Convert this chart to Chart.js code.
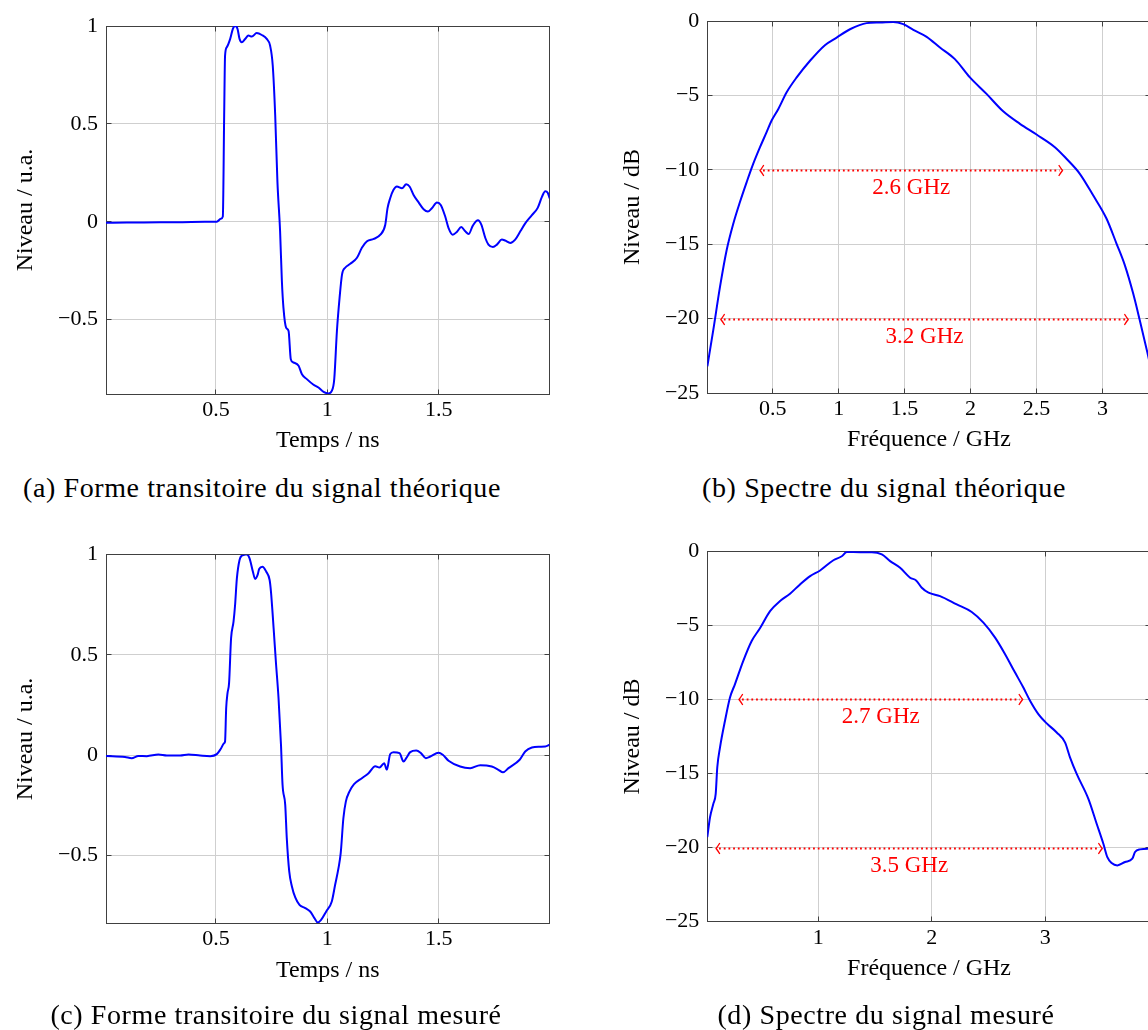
<!DOCTYPE html>
<html><head><meta charset="utf-8">
<script src="https://cdn.jsdelivr.net/npm/chart.js@4/dist/chart.umd.min.js"></script>
<style>
html,body{margin:0;padding:0;background:#fff;width:1148px;height:1030px;overflow:hidden;position:relative;}
canvas{position:absolute;}
.cap{position:absolute;font-family:"Liberation Serif","Times New Roman",serif;font-size:28px;letter-spacing:0.6px;line-height:34px;color:#000;white-space:nowrap;transform:translateX(-50%);}
</style></head><body>
<canvas id="ca" width="580" height="470" style="left:0px;top:0px"></canvas>
<canvas id="cb" width="620" height="470" style="left:600px;top:0px"></canvas>
<canvas id="cc" width="580" height="470" style="left:0px;top:530px"></canvas>
<canvas id="cd" width="620" height="470" style="left:600px;top:530px"></canvas>
<div class="cap" style="left:262px;top:471px">(a) Forme transitoire du signal théorique</div>
<div class="cap" style="left:884px;top:471px">(b) Spectre du signal théorique</div>
<div class="cap" style="left:276px;top:998px">(c) Forme transitoire du signal mesuré</div>
<div class="cap" style="left:886px;top:998px">(d) Spectre du signal mesuré</div>
<script>
// ---- data (a): transient, theoretical
const timeA = [0.007,0.1,0.25,0.35,0.45,0.504,0.522,0.531,0.537,0.541,0.549,0.564,0.576,0.586,0.597,0.606,0.616,0.631,0.646,0.661,0.683,0.706,0.728,0.743,0.755,0.766,0.776,0.788,0.796,0.803,0.815,0.826,0.836,0.848,0.871,0.886,0.908,0.938,0.960,0.983,1.005,1.020,1.031,1.043,1.055,1.066,1.080,1.103,1.133,1.155,1.178,1.208,1.238,1.260,1.270,1.282,1.297,1.312,1.335,1.354,1.369,1.387,1.409,1.432,1.451,1.469,1.492,1.509,1.529,1.544,1.563,1.581,1.601,1.619,1.634,1.653,1.676,1.691,1.709,1.723,1.743,1.761,1.783,1.798,1.821,1.843,1.866,1.888,1.918,1.944,1.963,1.978,1.989,1.998];
const levelA = [-0.005,-0.004,-0.003,-0.002,0.0,0.0,0.015,0.027,0.544,0.849,0.892,0.934,0.985,1.0,0.985,0.934,0.917,0.934,0.951,0.946,0.964,0.954,0.934,0.900,0.798,0.544,0.205,-0.049,-0.303,-0.439,-0.541,-0.558,-0.702,-0.719,-0.736,-0.779,-0.804,-0.833,-0.847,-0.869,-0.877,-0.864,-0.804,-0.558,-0.388,-0.269,-0.235,-0.215,-0.184,-0.133,-0.100,-0.088,-0.066,-0.015,0.068,0.120,0.163,0.180,0.171,0.191,0.180,0.137,0.100,0.064,0.052,0.069,0.098,0.086,0.027,-0.032,-0.066,-0.052,-0.027,-0.049,-0.063,-0.020,0.007,-0.015,-0.083,-0.117,-0.129,-0.117,-0.091,-0.096,-0.108,-0.091,-0.049,-0.008,0.034,0.071,0.127,0.156,0.148,0.119];
// ---- data (b): spectrum, theoretical
const freqB = [0.005,0.050,0.101,0.151,0.202,0.252,0.303,0.353,0.404,0.454,0.492,0.543,0.606,0.682,0.783,0.896,0.985,1.086,1.212,1.313,1.414,1.490,1.566,1.667,1.768,1.881,1.995,2.121,2.247,2.374,2.500,2.639,2.727,2.828,2.929,3.030,3.106,3.169,3.232,3.282,3.338,3.366];
const levelB = [-23.2,-20.76,-17.85,-15.4,-13.6,-12.16,-10.82,-9.58,-8.47,-7.46,-6.68,-5.90,-4.78,-3.78,-2.66,-1.61,-1.10,-0.54,-0.13,-0.09,-0.05,-0.2,-0.58,-1.05,-1.77,-2.55,-3.78,-4.89,-6.06,-6.9,-7.62,-8.47,-9.25,-10.26,-11.71,-13.27,-14.95,-16.4,-18.3,-20.09,-22.2,-23.3];
// ---- data (c): transient, measured
const timeC = [0.007,0.092,0.122,0.152,0.190,0.242,0.280,0.339,0.377,0.429,0.474,0.504,0.522,0.537,0.541,0.546,0.552,0.559,0.568,0.579,0.586,0.594,0.606,0.616,0.639,0.651,0.666,0.676,0.687,0.694,0.709,0.726,0.741,0.747,0.759,0.769,0.781,0.792,0.799,0.811,0.818,0.829,0.841,0.856,0.875,0.901,0.923,0.942,0.957,0.972,0.995,1.020,1.035,1.050,1.060,1.072,1.083,1.099,1.120,1.155,1.185,1.215,1.234,1.255,1.267,1.282,1.297,1.324,1.342,1.354,1.372,1.399,1.420,1.442,1.462,1.499,1.518,1.544,1.596,1.641,1.686,1.738,1.768,1.788,1.813,1.863,1.888,1.918,1.952,1.978,1.998];
const levelC = [-0.004,-0.009,-0.015,-0.004,-0.005,0.003,-0.002,-0.002,0.003,-0.002,-0.005,0.005,0.032,0.060,0.068,0.234,0.309,0.359,0.583,0.666,0.749,0.882,0.974,0.995,1.002,0.982,0.915,0.879,0.899,0.929,0.940,0.915,0.874,0.816,0.632,0.467,0.284,0.052,-0.148,-0.248,-0.414,-0.580,-0.655,-0.710,-0.747,-0.763,-0.780,-0.813,-0.835,-0.822,-0.780,-0.730,-0.647,-0.564,-0.489,-0.315,-0.232,-0.182,-0.145,-0.115,-0.090,-0.055,-0.062,-0.040,-0.072,0.005,0.015,0.010,-0.032,-0.015,0.015,0.023,0.010,-0.015,-0.007,0.012,0.002,-0.028,-0.057,-0.065,-0.050,-0.057,-0.073,-0.086,-0.065,-0.023,0.018,0.038,0.042,0.043,0.052];
// ---- data (d): spectrum, measured
const freqD = [0.022,0.046,0.075,0.096,0.110,0.134,0.178,0.222,0.266,0.339,0.413,0.486,0.575,0.663,0.751,0.839,0.928,1.016,1.133,1.207,1.251,1.369,1.472,1.560,1.633,1.721,1.809,1.862,1.912,1.971,2.073,2.220,2.352,2.455,2.558,2.646,2.734,2.807,2.866,2.939,3.013,3.101,3.174,3.218,3.277,3.380,3.453,3.512,3.547,3.585,3.635,3.703,3.767,3.791,3.835,3.905,3.93];
const levelD = [-19.29,-17.95,-17.05,-16.37,-14.58,-13.24,-11.44,-9.87,-8.97,-7.40,-6.06,-5.20,-4.04,-3.36,-2.87,-2.24,-1.68,-1.30,-0.61,-0.34,-0.05,-0.07,-0.07,-0.22,-0.67,-1.12,-1.79,-1.97,-2.47,-2.80,-3.03,-3.59,-4.10,-4.82,-5.83,-6.95,-8.19,-9.20,-10.09,-10.99,-11.62,-12.23,-12.90,-13.91,-15.03,-16.71,-18.39,-19.74,-20.64,-21.04,-21.2,-20.97,-20.75,-20.30,-20.12,-20.08,-20.08];
// ---- ticks
const timeTicks = [0.5, 1, 1.5];
const levelTicks = [-0.5, 0, 0.5, 1];
const freqTicksB = [0.5, 1, 1.5, 2, 2.5, 3];
const freqTicksD = [1, 2, 3];
const dbTicks = [-25, -20, -15, -10, -5, 0];
// ---- bandwidth annotations
const bandLevelB = [-10, -20];
const bandFromB = [0.404, 0.107];
const bandToB = [2.697, 3.195];
const bandTextB = ['2.6 GHz', '3.2 GHz'];
const bandLevelD = [-10, -20];
const bandFromD = [0.301, 0.099];
const bandToD = [2.801, 3.502];
const bandTextD = ['2.7 GHz', '3.5 GHz'];

const FONT = '"Liberation Serif", "Times New Roman", serif';
const GRID = '#cfcfcf';
const fmt = v => (v < 0 ? '\u2212' + Math.abs(v) : String(v));
const al = p => Math.round(p - 0.5) + 0.5;

const framePlugin = {
  id: 'frame',
  beforeDatasetsDraw(chart) {
    const { ctx, chartArea: a, scales: { x, y } } = chart;
    ctx.save();
    ctx.strokeStyle = '#404040'; ctx.lineWidth = 1;
    const L = al(a.left), R = al(a.right), T = al(a.top), B = al(a.bottom);
    ctx.strokeRect(L, T, R - L, B - T);
    ctx.beginPath();
    x.ticks.forEach(t => { const p = al(x.getPixelForValue(t.value)); ctx.moveTo(p, T); ctx.lineTo(p, T + 5); ctx.moveTo(p, B); ctx.lineTo(p, B - 5); });
    y.ticks.forEach(t => { const p = al(y.getPixelForValue(t.value)); ctx.moveTo(L, p); ctx.lineTo(L + 5, p); ctx.moveTo(R, p); ctx.lineTo(R - 5, p); });
    ctx.stroke();
    ctx.restore();
  }
};

function bandPlugin(levels, froms, tos, texts) {
  return {
    id: 'bands',
    afterDatasetsDraw(chart) {
      if (!levels) return;
      const { ctx, scales: { x, y } } = chart;
      ctx.save();
      ctx.strokeStyle = '#ff0000'; ctx.fillStyle = '#ff0000';
      levels.forEach((v, i) => {
        const py = Math.round(y.getPixelForValue(v)) + 0.5;
        const a = x.getPixelForValue(froms[i]), b = x.getPixelForValue(tos[i]);
        ctx.lineWidth = 1.8; ctx.setLineDash([1.8, 2.9]); ctx.lineCap = 'butt';
        ctx.beginPath(); ctx.moveTo(a + 3, py); ctx.lineTo(b - 3, py); ctx.stroke();
        ctx.setLineDash([]); ctx.lineWidth = 1.4; ctx.lineCap = 'round'; ctx.lineJoin = 'round';
        ctx.beginPath();
        ctx.moveTo(a + 3.5, py - 5); ctx.quadraticCurveTo(a + 1, py - 1, a, py); ctx.quadraticCurveTo(a + 1, py + 1, a + 3.5, py + 5);
        ctx.moveTo(b - 3.5, py - 5); ctx.quadraticCurveTo(b - 1, py - 1, b, py); ctx.quadraticCurveTo(b - 1, py + 1, b - 3.5, py + 5);
        ctx.stroke();
        ctx.font = '23px ' + FONT; ctx.textAlign = 'center'; ctx.textBaseline = 'middle';
        ctx.fillText(texts[i], (a + b) / 2, py + 17);
      });
      ctx.restore();
    }
  };
}

function makeChart(id, xs, ys, g) {
  return new Chart(document.getElementById(id), {
    type: 'line',
    data: { datasets: [{ data: xs.map((x, i) => ({ x: x, y: ys[i] })), borderColor: '#0000ff', borderWidth: 2, pointRadius: 0, cubicInterpolationMode: 'monotone', fill: false }] },
    options: {
      responsive: false, animation: false, devicePixelRatio: 1,
      layout: { padding: { left: 0, top: g.top, right: g.right, bottom: 0 } },
      plugins: { legend: { display: false }, tooltip: { enabled: false } },
      scales: {
        x: {
          type: 'linear', min: g.xMin, max: g.xMax,
          afterBuildTicks: s => { s.ticks = g.xTicks.map(v => ({ value: v })); },
          afterFit: s => { s.height = g.xAxisH; },
          grid: { color: GRID, lineWidth: 1, drawTicks: false },
          border: { display: false },
          ticks: { font: { family: FONT, size: 22 }, color: '#000', padding: 3, maxRotation: 0, autoSkip: false, callback: fmt },
          title: { display: true, text: g.xTitle, font: { family: FONT, size: 24 }, color: '#000', padding: { top: 0, bottom: g.xAxisH - 47 - 14.4 } }
        },
        y: {
          type: 'linear', min: g.yMin, max: g.yMax,
          afterBuildTicks: s => { s.ticks = g.yTicks.map(v => ({ value: v })); },
          afterFit: s => { s.width = g.yAxisW; },
          grid: { color: GRID, lineWidth: 1, drawTicks: false },
          border: { display: false },
          ticks: { font: { family: FONT, size: 22 }, color: '#000', padding: 8, autoSkip: false, callback: fmt },
          title: { display: true, text: g.yTitle, font: { family: FONT, size: 24 }, color: '#000', padding: { top: g.yTitleX - 14.4, bottom: 0 } }
        }
      }
    },
    plugins: [framePlugin, bandPlugin(g.bl, g.bf, g.bt, g.bx)]
  });
}

makeChart('ca', timeA, levelA, { top: 26, right: 30.5, xAxisH: 76, yAxisW: 106, xMin: 0.0067, xMax: 1.997, yMin: -0.88, yMax: 1, xTicks: timeTicks, yTicks: levelTicks, xTitle: 'Temps / ns', yTitle: 'Niveau / u.a.', yTitleX: 25.5 });
makeChart('cb', freqB, levelB, { top: 20.3, right: 69.2, xAxisH: 77, yAxisW: 107.3, xMin: 0.0045, xMax: 3.366, yMin: -25, yMax: 0, xTicks: freqTicksB, yTicks: dbTicks, xTitle: 'Fréquence / GHz', yTitle: 'Niveau / dB', yTitleX: 32.5, bl: bandLevelB, bf: bandFromB, bt: bandToB, bx: bandTextB });
makeChart('cc', timeC, levelC, { top: 24.7, right: 30.5, xAxisH: 76.7, yAxisW: 106, xMin: 0.0067, xMax: 1.997, yMin: -0.839, yMax: 1, xTicks: timeTicks, yTicks: levelTicks, xTitle: 'Temps / ns', yTitle: 'Niveau / u.a.', yTitleX: 25.8 });
makeChart('cd', freqD, levelD, { top: 20, right: 69.2, xAxisH: 78.3, yAxisW: 107.3, xMin: 0.022, xMax: 3.93, yMin: -25, yMax: 0, xTicks: freqTicksD, yTicks: dbTicks, xTitle: 'Fréquence / GHz', yTitle: 'Niveau / dB', yTitleX: 32.5, bl: bandLevelD, bf: bandFromD, bt: bandToD, bx: bandTextD });
</script>
</body></html>
